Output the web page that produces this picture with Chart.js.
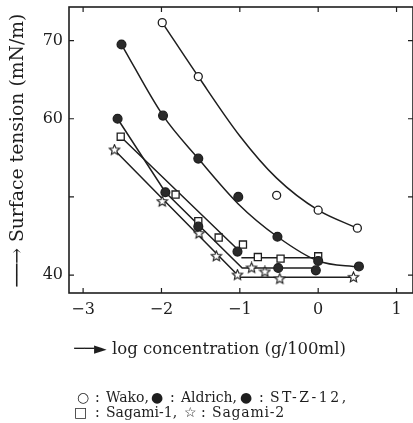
<!DOCTYPE html>
<html>
<head>
<meta charset="utf-8">
<script src="https://cdn.jsdelivr.net/npm/chart.js@4.4.0/dist/chart.umd.min.js"></script>
<style>
  body { margin: 0; background: #fff; }
  #wrap { position: relative; width: 413px; height: 423px; overflow: hidden; }
  .k {
    position: absolute; font: 14px "DejaVu Serif", serif; line-height: 16px;
    color: #1e1e1e; white-space: pre;
  }
</style>
</head>
<body>
<div id="wrap">
  <canvas id="chart" width="413" height="423"></canvas>
  <div id="key"></div>
</div>
<script>
// axes
const xTicks = [-3, -2, -1, 0, 1];
const xTickLabels = ['−3', '−2', '−1', '0', '1'];
const yTicks = [40, 50, 60, 70];
const yTickLabels = ['40', '', '60', '70'];

// measured points
const wakoX = [-1.99, -1.53, -0.53, 0.0, 0.50];
const wakoY = [72.3, 65.4, 50.2, 48.3, 46.0];
const aldrichX = [-2.51, -1.98, -1.53, -1.02, -0.52, 0.0, 0.52];
const aldrichY = [69.5, 60.4, 54.9, 50.0, 44.9, 41.8, 41.1];
const stzX = [-2.56, -1.95, -1.53, -1.03, -0.51, -0.03];
const stzY = [60.0, 50.6, 46.2, 43.0, 40.9, 40.6];
const sagami1X = [-2.52, -1.82, -1.53, -1.27, -0.96, -0.77, -0.48, 0.0];
const sagami1Y = [57.7, 50.3, 46.9, 44.8, 43.9, 42.3, 42.1, 42.4];
const sagami2X = [-2.6, -1.99, -1.52, -1.3, -1.03, -0.85, -0.68, -0.49, 0.45];
const sagami2Y = [56.0, 49.4, 45.3, 42.4, 40.0, 40.9, 40.4, 39.5, 39.7];

// drawn fit lines
const wakoFitX = [-1.99, -1.53, -1.0, -0.53, 0.0, 0.50];
const wakoFitY = [72.3, 65.4, 57.8, 52.4, 48.3, 46.0];
const aldrichFitX = [-2.51, -1.98, -1.53, -1.02, -0.52, 0.0, 0.52];
const aldrichFitY = [69.5, 60.4, 54.9, 49.1, 44.9, 41.8, 41.0];
const stzFitX = [-2.56, -1.95, -0.97, -0.03];
const stzFitY = [60.0, 50.6, 40.9, 40.9];
const sagami1FitX = [-2.52, -1.0, -1.0, -0.98, 0.0];
const sagami1FitY = [57.7, 43.0, null, 42.2, 42.2];
const sagami2FitX = [-2.6, -1.0, 0.45];
const sagami2FitY = [56.0, 39.7, 39.7];

// key text, two lines: [text, left, letter spacing]
const keyLine1 = [['○', 77, 0], [':', 95, 0], ['Wako,', 106, 0], ['●', 151, 0], [':', 170, 0],
  ['Aldrich,', 181, 0], ['●', 240, 0], [':', 259, 0], ['ST-Z-12,', 270, 2.5]];
const keyLine2 = [['□', 74, 0], [':', 95, 0], ['Sagami-1,', 106, 0], ['☆', 184, 0], [':', 201, 0],
  ['Sagami-2', 212, 0.8]];

const ink = '#1e1e1e';
const serif = 'DejaVu Serif';

const key = document.getElementById('key');
[[keyLine1, 389], [keyLine2, 404]].forEach(([line, top]) => {
  line.forEach(([t, left, ls]) => {
    const s = document.createElement('span');
    s.className = 'k';
    s.textContent = t;
    s.style.left = left + 'px';
    s.style.top = top + 'px';
    s.style.letterSpacing = ls + 'px';
    key.appendChild(s);
  });
});

function pts(xs, ys) {
  return xs.map((x, i) => ({ x: x, y: ys[i] }));
}

function starCanvas(size, lw) {
  const c = document.createElement('canvas');
  c.width = c.height = size;
  const g = c.getContext('2d');
  const ro = size / 2 - lw, ri = ro * 0.45;
  g.beginPath();
  for (let k = 0; k < 10; k++) {
    const r = k % 2 ? ri : ro;
    const a = -Math.PI / 2 + k * Math.PI / 5;
    g.lineTo(size / 2 + r * Math.cos(a), size / 2 + r * Math.sin(a));
  }
  g.closePath();
  g.fillStyle = '#fff';
  g.fill();
  g.lineWidth = lw;
  g.strokeStyle = ink;
  g.stroke();
  return c;
}

function fit(xs, ys, curved) {
  return {
    data: pts(xs, ys), showLine: true, pointRadius: 0, order: 2,
    borderColor: ink, borderWidth: 1.5, fill: false,
    cubicInterpolationMode: curved ? 'monotone' : 'default'
  };
}

function marks(xs, ys, style, fillCol, r) {
  return {
    data: pts(xs, ys), showLine: false, order: 1,
    pointStyle: style, pointRadius: r, pointBackgroundColor: fillCol,
    pointBorderColor: ink, pointBorderWidth: 1.3
  };
}

// frame and inward tick marks
const framePlugin = {
  id: 'frame',
  afterDraw(chart) {
    const { ctx, chartArea: a, scales } = chart;
    ctx.save();
    ctx.strokeStyle = ink;
    ctx.lineWidth = 1.6;
    ctx.strokeRect(a.left, a.top, a.right - a.left, a.bottom - a.top);
    ctx.lineWidth = 1.2;
    ctx.beginPath();
    xTicks.forEach(v => {
      const px = scales.x.getPixelForValue(v);
      ctx.moveTo(px, a.bottom); ctx.lineTo(px, a.bottom - 5);
      ctx.moveTo(px, a.top); ctx.lineTo(px, a.top + 5);
    });
    yTicks.forEach(v => {
      const py = scales.y.getPixelForValue(v);
      ctx.moveTo(a.left, py); ctx.lineTo(a.left + 5, py);
      ctx.moveTo(a.right, py); ctx.lineTo(a.right - 5, py);
    });
    ctx.stroke();
    ctx.restore();
  }
};

new Chart(document.getElementById('chart'), {
  type: 'scatter',
  data: {
    datasets: [
      marks(wakoX, wakoY, 'circle', '#fff', 4),
      marks(aldrichX, aldrichY, 'circle', '#2a2a2a', 4.4),
      marks(stzX, stzY, 'circle', '#2a2a2a', 4.4),
      marks(sagami1X, sagami1Y, 'rect', '#fff', 5),
      marks(sagami2X, sagami2Y, starCanvas(13, 1.1), '#fff', 6),
      fit(wakoFitX, wakoFitY, true),
      fit(aldrichFitX, aldrichFitY, true),
      fit(stzFitX, stzFitY, false),
      fit(sagami1FitX, sagami1FitY, false),
      fit(sagami2FitX, sagami2FitY, false)
    ]
  },
  options: {
    responsive: false,
    animation: false,
    layout: { autoPadding: false, padding: { top: 7, right: 0, left: 0, bottom: 0 } },
    plugins: { legend: { display: false }, tooltip: { enabled: false } },
    scales: {
      x: {
        type: 'linear', min: -3.18, max: 1.21,
        grid: { display: false, drawTicks: false },
        border: { display: false },
        afterBuildTicks: s => { s.ticks = xTicks.map(v => ({ value: v })); },
        afterFit: s => { s.height = 130; s.paddingLeft = 0; s.paddingRight = 0; },
        ticks: {
          autoSkip: false, maxRotation: 0, padding: 7, color: ink,
          font: { family: serif, size: 16 },
          callback: v => xTickLabels[xTicks.indexOf(v)]
        },
        title: {
          display: true, align: 'start', color: ink,
          text: ' ──► log concentration (g/100ml)',
          font: { family: serif, size: 16.5 },
          padding: { top: 0, bottom: 63 }
        }
      },
      y: {
        type: 'linear', min: 37.7, max: 74.3,
        grid: { display: false, drawTicks: false },
        border: { display: false },
        afterBuildTicks: s => { s.ticks = yTicks.map(v => ({ value: v })); },
        afterFit: s => { s.width = 69; s.paddingTop = 0; s.paddingBottom = 0; },
        ticks: {
          autoSkip: false, padding: 6, color: ink,
          font: { family: serif, size: 16 },
          callback: v => yTickLabels[yTicks.indexOf(v)]
        },
        title: {
          display: true, color: ink,
          text: '──→ Surface tension (mN/m)',
          font: { family: serif, size: 18.8 },
          padding: { top: 7, bottom: 0 }
        }
      }
    }
  },
  plugins: [framePlugin]
});
</script>
</body>
</html>
